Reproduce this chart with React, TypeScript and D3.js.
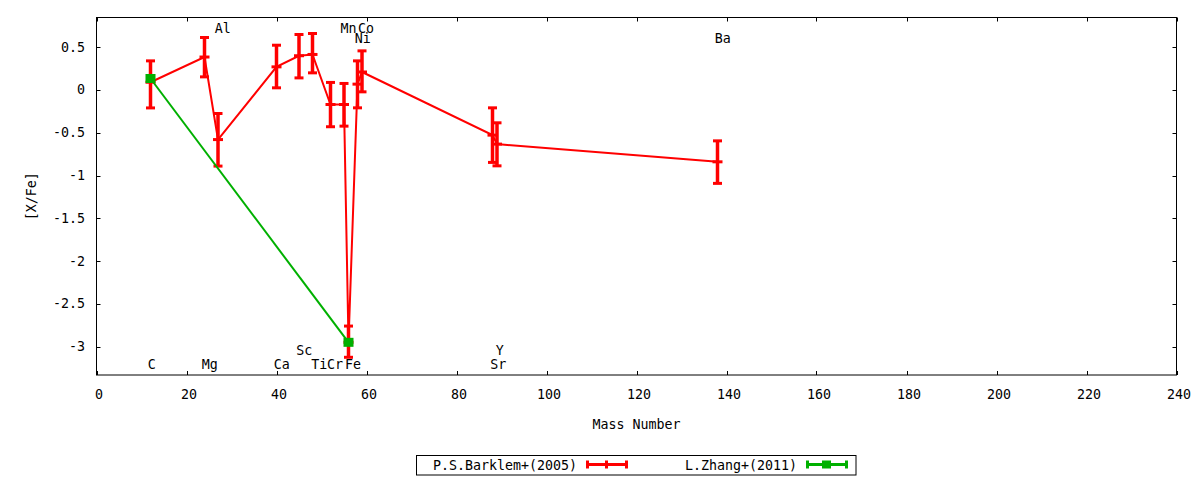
import React from "react";
import * as d3 from "d3";

// ---- data ----
const barklemElements = ["C", "Mg", "Al", "Ca", "Sc", "Ti", "Cr", "Mn", "Fe", "Ni", "Co", "Sr", "Y", "Ba"];
const barklemMass = [12, 24, 27, 40, 45, 48, 52, 55, 56, 58, 59, 88, 89, 138];
const barklemValue = [0.09, 0.385, -0.58, 0.27, 0.4, 0.415, -0.17, -0.17, -2.95, 0.068, 0.21, -0.528, -0.633, -0.84];
const barklemLow = [-0.21, 0.153, -0.89, 0.025, 0.141, 0.2, -0.43, -0.423, -3.125, -0.209, -0.022, -0.847, -0.887, -1.092];
const barklemHigh = [0.34, 0.613, -0.275, 0.523, 0.648, 0.66, 0.088, 0.076, -2.76, 0.34, 0.457, -0.209, -0.384, -0.595];

const zhangMass = [12, 56];
const zhangValue = [0.134, -2.95];

const labelText = ["C", "Mg", "Al", "Ca", "Sc", "Ti", "Cr", "Fe", "Mn", "Co", "Ni", "Sr", "Y", "Ba"];
const labelX = [11.4, 23.4, 26.3, 39.4, 44.4, 47.7, 51.2, 55.2, 54.2, 58.1, 57.4, 87.5, 88.7, 137.4];
const labelY = [-3.26, -3.26, 0.66, -3.26, -3.1, -3.26, -3.26, -3.26, 0.66, 0.66, 0.545, -3.26, -3.1, 0.55];

const xTicks = [0, 20, 40, 60, 80, 100, 120, 140, 160, 180, 200, 220, 240];
const yTicks = [0.5, 0, -0.5, -1, -1.5, -2, -2.5, -3];

const seriesNames = ["P.S.Barklem+(2005)", "L.Zhang+(2011)"];

const RED = "#ff0000";
const GREEN = "#00b000";
const FONT = "'DejaVu Sans Mono', monospace";

export default function App() {
  const left = 96.5, right = 1176.5, top = 17.5, bottom = 375;
  const x = d3.scaleLinear().domain([0, 240]).range([left, right]);
  const y = d3.scaleLinear().domain([0.847, -3.332]).range([top, bottom]);

  const redLine = d3
    .line<number>()
    .x((i) => x(barklemMass[i]))
    .y((i) => y(barklemValue[i]))(barklemMass.map((_, i) => i));
  const greenLine = d3
    .line<number>()
    .x((i) => x(zhangMass[i]))
    .y((i) => y(zhangValue[i]))(zhangMass.map((_, i) => i));

  const fmt = (v: number) => String(v);
  const tl = 4;
  const fs = 13.3;

  return (
    <svg width={1200} height={480} style={{ position: "absolute", left: 0, top: 0, background: "#fff" }}>
      <rect x={0} y={0} width={1200} height={480} fill="#fff" />
      {/* ticks */}
      <g stroke="#000" strokeWidth={1}>
        {xTicks.map((t) => (
          <g key={"xt" + t}>
            <line x1={Math.round(x(t)) + 0.5} x2={Math.round(x(t)) + 0.5} y1={bottom} y2={bottom - tl} />
            <line x1={Math.round(x(t)) + 0.5} x2={Math.round(x(t)) + 0.5} y1={top} y2={top + tl} />
          </g>
        ))}
        {yTicks.map((t) => (
          <g key={"yt" + t}>
            <line x1={left} x2={left + tl} y1={Math.round(y(t)) + 0.5} y2={Math.round(y(t)) + 0.5} />
            <line x1={right} x2={right - tl} y1={Math.round(y(t)) + 0.5} y2={Math.round(y(t)) + 0.5} />
          </g>
        ))}
      </g>
      <g fontFamily={FONT} fontSize={fs} fill="#000">
        {xTicks.map((t) => (
          <text key={"xl" + t} x={x(t) + 2.5} y={399} textAnchor="middle">
            {fmt(t)}
          </text>
        ))}
        {yTicks.map((t) => (
          <text key={"yl" + t} x={85} y={y(t)} textAnchor="end" dominantBaseline="central">
            {fmt(t)}
          </text>
        ))}
        <text x={(left + right) / 2} y={429} textAnchor="middle">
          Mass Number
        </text>
        <text
          transform={`translate(36,${(top + bottom) / 2}) rotate(-90)`}
          textAnchor="middle"
        >
          [X/Fe]
        </text>
      </g>

      {/* element labels */}
      <g fontFamily={FONT} fontSize={fs} fill="#000">
        {labelText.map((s, i) => (
          <text key={"lab" + i} x={x(labelX[i])} y={y(labelY[i])} textAnchor="start">
            {s}
          </text>
        ))}
      </g>

      {/* Barklem series */}
      <path d={redLine || ""} fill="none" stroke={RED} strokeWidth={2} />
      <g stroke={RED} strokeWidth={3.5}>
        {barklemMass.map((m, i) => {
          const cx = x(m);
          return (
            <g key={"eb" + barklemElements[i]}>
              <line x1={cx} x2={cx} y1={y(barklemHigh[i])} y2={y(barklemLow[i])} />
              <line x1={cx - 4.5} x2={cx + 4.5} y1={y(barklemHigh[i])} y2={y(barklemHigh[i])} strokeWidth={3} />
              <line x1={cx - 4.5} x2={cx + 4.5} y1={y(barklemLow[i])} y2={y(barklemLow[i])} strokeWidth={3} />
              <line x1={cx - 5} x2={cx + 5} y1={y(barklemValue[i])} y2={y(barklemValue[i])} strokeWidth={3} />
            </g>
          );
        })}
      </g>

      {/* Zhang series */}
      <path d={greenLine || ""} fill="none" stroke={GREEN} strokeWidth={2} />
      {zhangMass.map((m, i) => (
        <rect key={"zm" + i} x={x(m) - 5} y={y(zhangValue[i]) - 4.5} width={10} height={9} fill={GREEN} />
      ))}

      {/* legend */}
      <rect x={416.5} y={455.5} width={439.5} height={19.5} fill="none" stroke="#000" strokeWidth={1} />
      <g fontFamily={FONT} fontSize={fs} fill="#000">
        <text x={577} y={465} textAnchor="end" dominantBaseline="central">
          {seriesNames[0]}
        </text>
        <text x={797} y={465} textAnchor="end" dominantBaseline="central">
          {seriesNames[1]}
        </text>
      </g>
      <g stroke={RED} strokeWidth={3}>
        <line x1={586} x2={628} y1={464.5} y2={464.5} />
        <line x1={587.5} x2={587.5} y1={460.5} y2={468.5} />
        <line x1={626.5} x2={626.5} y1={460.5} y2={468.5} />
        <line x1={606.5} x2={606.5} y1={460.5} y2={468.5} />
      </g>
      <g stroke={GREEN} strokeWidth={3}>
        <line x1={806} x2={848} y1={464.5} y2={464.5} />
        <line x1={807.5} x2={807.5} y1={460.5} y2={468.5} />
        <line x1={846.5} x2={846.5} y1={460.5} y2={468.5} />
      </g>
      <rect x={822} y={460.5} width={9} height={8} fill={GREEN} />

      {/* border */}
      <rect x={left} y={top} width={right - left} height={bottom - top} fill="none" stroke="#000" strokeWidth={1} />
    </svg>
  );
}
